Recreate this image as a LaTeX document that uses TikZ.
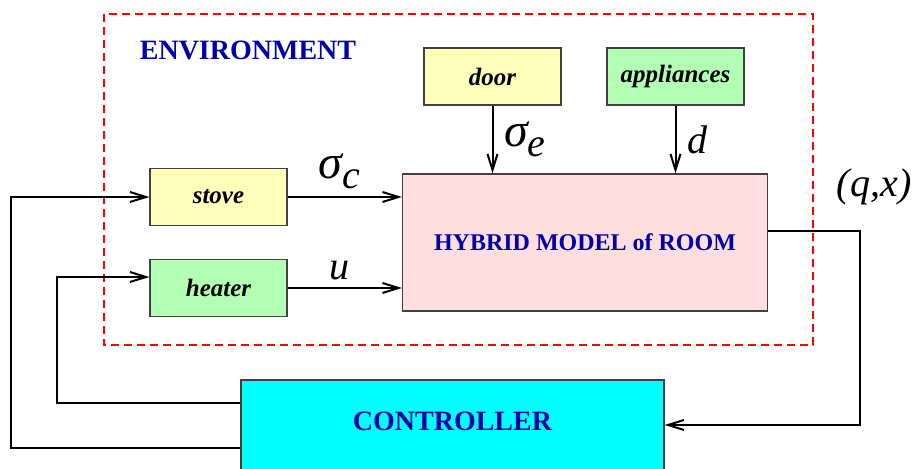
\documentclass[tikz,border=0pt]{standalone}
\usepackage{fontspec}
\setmainfont{Liberation Serif}
\usetikzlibrary{arrows.meta}

\definecolor{boxyellow}{RGB}{255,255,187}
\definecolor{boxgreen}{RGB}{179,255,179}
\definecolor{boxpink}{RGB}{255,222,224}
\definecolor{boxcyan}{RGB}{0,255,255}
\definecolor{titleblue}{RGB}{0,0,170}
\definecolor{boxgray}{RGB}{64,64,64}

\newcommand{\sigsub}[1]{{\fontsize{24}{24}\selectfont σ}\raisebox{-5pt}{\itshape #1}}

\begin{document}
\begin{tikzpicture}[x=0.5pt,y=-0.5pt,->,>={Straight Barb[length=8pt,width=5pt]},auto,
  line width=1pt,
  box node/.style={rectangle,draw=boxgray,line width=0.65pt,minimum width=68.5pt,minimum height=28.5pt,
    font=\fontsize{12.5}{15}\selectfont\bfseries\itshape},
  big node/.style={rectangle,draw=boxgray,line width=0.65pt,text=titleblue,font=\fontsize{14}{17}\selectfont\bfseries},
  title node/.style={text=titleblue,font=\fontsize{14}{17}\selectfont\bfseries},
  sig node/.style={font=\fontsize{20}{24}\selectfont\itshape},
  env box/.style={-,draw=red,line width=1pt,dash pattern=on 4pt off 2.5pt}]

  \clip (0,0) rectangle (912,469);

  \draw[env box] (104,14) rectangle (813,345);
  \node[title node] (env) at (248,50) {ENVIRONMENT};

  \node[box node,fill=boxyellow] (door) at (492.5,76.5) {door};
  \node[box node,fill=boxgreen] (appl) at (675.5,76.5) {appliances};
  \node[box node,fill=boxyellow] (stove) at (218.5,197) {stove};
  \node[box node,fill=boxgreen] (heater) at (218.5,288) {heater};
  \node[big node,fill=boxpink,minimum width=182.5pt,minimum height=68.5pt,font=\fontsize{12}{14}\selectfont\bfseries]
    (room) at (585,242.5) {HYBRID MODEL of ROOM};
  \node[big node,fill=boxcyan,minimum width=211.5pt,minimum height=50pt,text depth=9pt]
    (ctrl) at (452.5,430) {CONTROLLER};

  \path[every node/.style={sig node}]
    (stove.east) edge node[pos=0.45] {\sigsub{c}} (stove.east -| room.west)
    (heater.east) edge node[pos=0.45] {u} (heater.east -| room.west)
    (door.south) edge node[xshift=2pt] {\sigsub{e}} (door.south |- room.north)
    (appl.south) edge node[xshift=2pt] {d} (appl.south |- room.north)
    ;

  \draw ([yshift=5.7pt]room.east) -- ++(92,0) node[sig node,above=9pt,xshift=7pt] {(q,x)}
    |- ([yshift=2.5pt]ctrl.east);
  \draw ([yshift=13.5pt]ctrl.west) -- ++(-183,0) |- ([yshift=5.5pt]heater.west);
  \draw ([yshift=-9pt]ctrl.west) -- ++(-229,0) |- (stove.west);

\end{tikzpicture}
\end{document}
